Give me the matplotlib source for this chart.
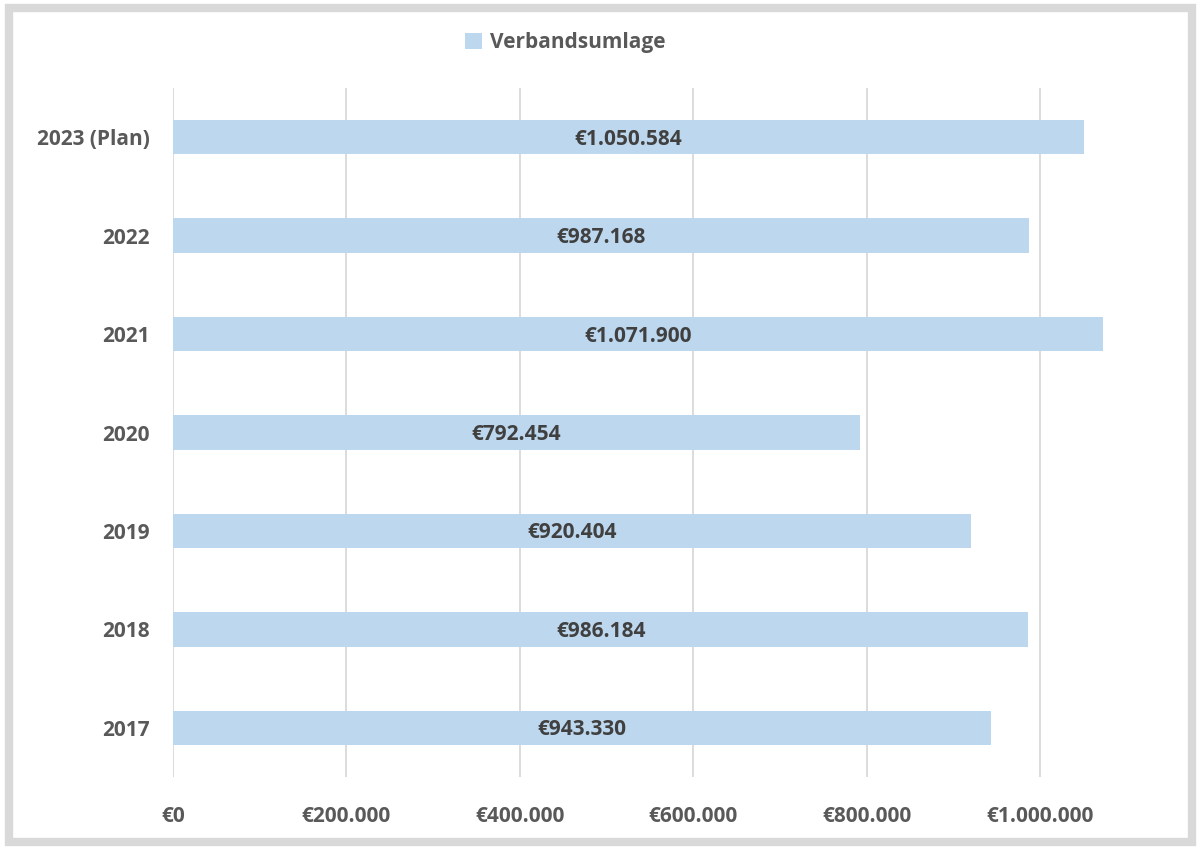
import matplotlib.pyplot as plt
from matplotlib.patches import Rectangle

years = ['2017', '2018', '2019', '2020', '2021', '2022', '2023 (Plan)']
umlage = [943330, 986184, 920404, 792454, 1071900, 987168, 1050584]
xticks = [0, 200000, 400000, 600000, 800000, 1000000]


def euro(v):
    return '€' + f'{int(v):,}'.replace(',', '.')


plt.rcParams['font.family'] = ['Open Sans', 'DejaVu Sans']
txt = '#595959'

fig = plt.figure(figsize=(12, 8.48), dpi=100)
ax = fig.add_axes([0.1442, 0.0837, 0.795, 0.8125])

bars = ax.barh(years, umlage, height=0.35, color='#BDD7EE', label='Verbandsumlage', zorder=2)
for y, v in enumerate(umlage):
    ax.text(v / 2, y - 0.02, euro(v), ha='center', va='center', fontsize=15,
            fontweight='bold', color='#404040', zorder=3)

ax.set_xlim(0, 1100000)
ax.set_ylim(-0.5, len(years) - 0.5)
ax.set_xticks(xticks)
ax.set_xticklabels([euro(t) for t in xticks])
ax.grid(axis='x', color='#d9d9d9', linewidth=1.3, zorder=0)
for s in ax.spines.values():
    s.set_visible(False)
ax.tick_params(length=0, labelsize=15, labelcolor=txt)
ax.tick_params(axis='x', pad=21)
ax.tick_params(axis='y', pad=17)
for lbl in ax.get_xticklabels() + ax.get_yticklabels():
    lbl.set_fontweight('bold')

leg = fig.legend(handles=[bars], labels=['Verbandsumlage'], loc='center',
                 bbox_to_anchor=(0.471, 0.95), frameon=False, fontsize=15,
                 handlelength=0.8, handleheight=0.8, handletextpad=0.4)
for t in leg.get_texts():
    t.set_color(txt)
    t.set_fontweight('bold')

# grauer Rahmen ums Bild
fig.patches.append(Rectangle((0.0075, 0.007), 0.9855, 0.983, transform=fig.transFigure,
                             fill=False, edgecolor='#d9d9d9', linewidth=6))

fig.savefig('out.png', dpi=100)
